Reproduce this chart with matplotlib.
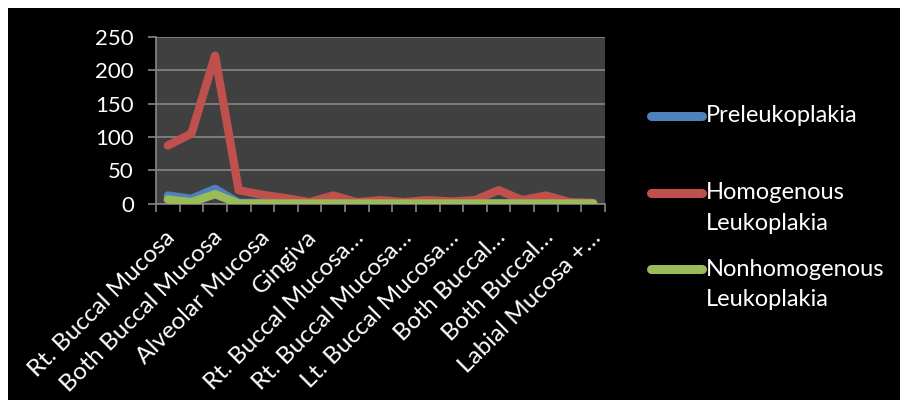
import numpy as np
import matplotlib
matplotlib.use("Agg")
import matplotlib.pyplot as plt
import matplotlib.transforms as mtransforms
from matplotlib.patches import Rectangle
from matplotlib.lines import Line2D

plt.rcParams['font.family'] = ['Lato', 'DejaVu Sans']

# Category labels shown on the axis (every other category is labelled)
tick_labels = ['Rt. Buccal Mucosa', 'Both Buccal Mucosa', 'Alveolar Mucosa', 'Gingiva',
               'Rt. Buccal Mucosa…', 'Rt. Buccal Mucosa…', 'Lt. Buccal Mucosa…',
               'Both Buccal…', 'Both Buccal…', 'Labial Mucosa +…']

# Series values (19 sites)
preleukoplakia = [12, 7, 22, 1, 1, 0, 0, 0, 0, 0, 0, 0, 0, 0, 0, 0, 0, 0, 0]
homogenous = [87, 105, 222, 20, 13, 8, 2, 12, 2, 5, 2, 5, 3, 5, 20, 5, 12, 2, 1]
nonhomogenous = [6, 2, 14, 0, 0, 0, 0, 0, 0, 0, 0, 0, 0, 0, 0, 0, 0, 0, 0]

series_names = ['Preleukoplakia', 'Homogenous\nLeukoplakia', 'Nonhomogenous\nLeukoplakia']
colors = ['#4F81BD', '#C0504D', '#9BBB59']

fig = plt.figure(figsize=(9, 4), dpi=100)
fig.patch.set_facecolor('white')
# black chart area (image has a thin white margin top and left)
fig.patches.append(Rectangle((8 / 900, 0), 892 / 900, 392 / 400,
                             transform=fig.transFigure, facecolor='black',
                             edgecolor='none', zorder=-5))

ax = fig.add_axes([156 / 900, 1 - 203.5 / 400, 449 / 900, (203.5 - 37) / 400])
ax.set_zorder(2)
ax.set_facecolor('#404040')

x = np.arange(len(homogenous))
lines = []
for vals, c in zip([preleukoplakia, homogenous, nonhomogenous], colors):
    ln, = ax.plot(x, vals, color=c, lw=6, solid_capstyle='round',
                  solid_joinstyle='round', zorder=3)
    lines.append(ln)

ax.set_xlim(-0.5, len(x) - 0.5)
ax.set_ylim(0, 250)
ax.set_yticks(np.arange(0, 251, 50))
ax.grid(axis='y', color='#868686', lw=1.2, zorder=1)
ax.set_axisbelow(True)

for s in ['top', 'right']:
    ax.spines[s].set_visible(False)
for s in ['left', 'bottom']:
    ax.spines[s].set_color('#868686')
    ax.spines[s].set_linewidth(1.2)

ax.tick_params(axis='y', colors='#868686', length=6, width=1.2, pad=10,
               labelcolor='white', labelsize=16)

# category boundaries as tick marks, labels on every other category
ax.set_xticks(np.arange(-0.5, len(x), 1.0), minor=True)
ax.set_xticks(x[::2])
ax.set_xticklabels(tick_labels, rotation=45, ha='right', va='center',
                   rotation_mode='anchor', color='white', fontsize=17.5)
ax.tick_params(axis='x', which='major', length=0, pad=22)
ax.tick_params(axis='x', which='minor', colors='#868686', length=6, width=1.2)
shift = mtransforms.ScaledTranslation(4 / 100, 0, fig.dpi_scale_trans)
for lab in ax.get_xticklabels():
    lab.set_transform(lab.get_transform() + shift)

# legend drawn beside the plot
leg_y = [116, 193, 269]
for ln, name, y in zip(lines, series_names, leg_y):
    yf = 1 - y / 400
    fig.add_artist(Line2D([651 / 900, 702 / 900], [yf, yf], color=ln.get_color(),
                          lw=6.5, solid_capstyle='round', transform=fig.transFigure))
    for i, part in enumerate(name.split('\n')):
        fig.text(706 / 900, 1 - (y + 30 * i) / 400, part, color='white',
                 fontsize=17, va='center', ha='left')

fig.savefig('out.png', dpi=100, facecolor=fig.get_facecolor())
